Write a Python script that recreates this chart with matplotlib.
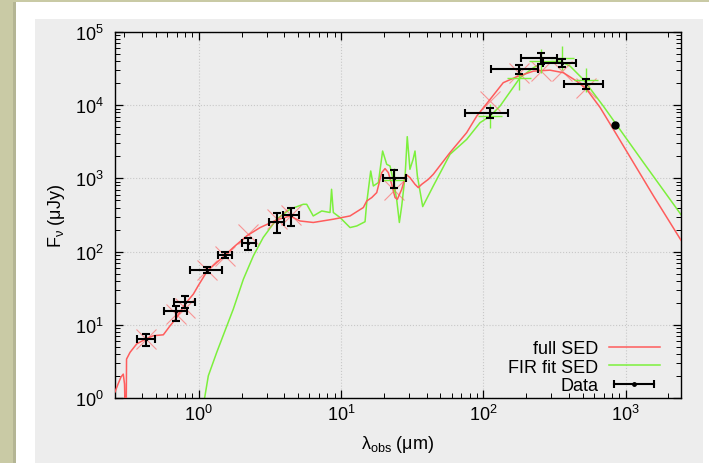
import matplotlib
matplotlib.use("Agg")
import matplotlib.pyplot as plt
from matplotlib.patches import Rectangle
from matplotlib.lines import Line2D
from matplotlib.legend_handler import HandlerLine2D, HandlerTuple
from matplotlib.ticker import LogLocator, NullFormatter

plt.rcParams['font.family'] = ['Liberation Sans', 'DejaVu Sans']
plt.rcParams['mathtext.fontset'] = 'custom'
plt.rcParams['mathtext.rm'] = 'Liberation Sans'

# photometry (um, uJy)
lam = [0.426, 0.689, 0.801, 1.15, 1.53, 2.23, 3.53, 4.45, 23.7, 111, 178, 254, 359, 527]
flux = [6.4, 15.2, 20.6, 56, 89, 130, 254, 318, 1000, 7900, 30800, 44400, 38000, 19200]
lam_lo = [0.366, 0.572, 0.67, 0.869, 1.37, 2.0, 3.13, 3.93, 19.6, 74.3, 113, 184, 264, 371]
lam_hi = [0.489, 0.832, 0.94, 1.45, 1.70, 2.52, 4.0, 5.1, 28.5, 150, 244, 327, 448, 697]
flux_lo = [5.2, 11.3, 17.2, 51, 81, 105, 182, 224, 733, 6600, 26300, 36000, 33500, 16400]
flux_hi = [7.6, 18.1, 24.4, 62, 98, 155, 341, 400, 1303, 9250, 35300, 50900, 43100, 22500]

# single point without errors
lam_smm = [843]
flux_smm = [5420]

# model photometry
model_full = [6.4, 14, 17.2, 56, 88, 172, 280, 315, 700, 11300, 27700, 29000, 29000, 17000]
lam_fir = [23.7, 111, 178, 254, 359, 527]
model_fir = [950, 7100, 23700, 39600, 44700, 22300]

# full SED curve
sed_lam = [0.258, 0.271, 0.284, 0.295, 0.301, 0.305, 0.309, 0.311, 0.329, 0.367,
           0.426, 0.480, 0.564, 0.629, 0.689, 0.801, 0.916, 0.99, 1.149, 1.338,
           1.53, 1.75, 2.175, 2.70, 3.53, 4.38, 5.15, 6.38, 8.83, 11.57,
           14.35, 15.16, 16.44, 17.82, 19.32, 20.38, 21.5, 22.7, 23.97, 24.88,
           26.7, 28.6, 30.5, 33.1, 34.9, 36.9, 41.1, 44.5, 58.3, 76.4,
           89.9, 111.5, 138, 172, 225, 294, 365, 453, 533, 661,
           865, 1566, 2450]
sed_flux = [1.21, 1.55, 1.93, 2.12, 1.55, 0.5, 0.5, 3.4, 4.2, 5.5,
            6.4, 7.1, 7.3, 9.7, 12.0, 19.2, 26.2, 34, 54.5, 71,
            89, 114, 164, 213, 271, 307, 262, 250, 277, 307,
            400, 492, 547, 640, 1200, 1361, 1200, 830, 547, 519,
            710, 1138, 1026, 830, 749, 830, 972, 1138, 2250, 4220,
            7100, 12000, 20300, 24500, 29200, 30100, 27800, 21300, 16400, 9330,
            3950, 580, 143]

# FIR fit curve
fir_lam = [1.10, 1.168, 1.338, 1.53, 1.75, 2.06, 2.42, 2.84, 3.53, 4.38,
           5.43, 5.74, 6.38, 7.32, 8.37, 8.58, 8.83, 9.84, 11.57, 12.9,
           14.75, 15.16, 16.17, 16.87, 18.3, 19.6, 20.95, 22.1, 23.6, 24.6,
           25.7, 26.7, 28.2, 29.2, 30.5, 32.1, 33.1, 34.4, 37.5, 44.5,
           58.3, 76.4, 94.8, 111.5, 131, 181, 225, 264, 346, 407,
           504, 697, 964, 1331, 2450]
fir_flux = [1.0, 2.01, 4.2, 8.3, 16.4, 42, 87.4, 156, 277, 379,
            443, 443, 307, 359, 342, 710, 342, 292, 213, 224,
            256, 468, 1262, 788, 877, 2366, 1557, 1477, 830, 519,
            250, 420, 1079, 3716, 1331, 1823, 2366, 1079, 412, 788,
            2132, 3415, 5770, 7100, 9720, 23700, 32500, 38700, 40000, 34200,
            22500, 9720, 4000, 1660, 320]

red = '#ff5c5c'
green = '#7cf03c'
panel = '#ededed'

fig = plt.figure(figsize=(7.09, 4.64), dpi=100, facecolor='#c9caa5')
# frame around the plot
fig.add_artist(Rectangle((13 / 709, 0), 4 / 709, 461 / 464, transform=fig.transFigure,
                         facecolor='#b4b594', edgecolor='none', zorder=-3))
fig.add_artist(Rectangle((16 / 709, 0), 693 / 709, 461 / 464, transform=fig.transFigure,
                         facecolor='white', edgecolor='none', zorder=-2))
fig.add_artist(Rectangle((35 / 709, 0), 668 / 709, 444 / 464, transform=fig.transFigure,
                         facecolor=panel, edgecolor='none', zorder=-1))

ax = fig.add_axes([115 / 709, 65 / 464, 566 / 709, 366 / 464])
ax.set_facecolor(panel)
ax.set_xscale('log')
ax.set_yscale('log')

ax.plot(sed_lam, sed_flux, color=red, lw=1.1, zorder=3)
ax.plot(fir_lam, fir_flux, color=green, lw=1.1, zorder=2)
ax.plot(lam, model_full, ls='none', marker='x', ms=15, mew=0.8, color=red, alpha=0.6, zorder=4)
ax.plot(lam_fir, model_fir, ls='none', marker='+', ms=17, mew=1.0, color=green, zorder=4)

xerr = [[l - a for l, a in zip(lam, lam_lo)], [b - l for l, b in zip(lam, lam_hi)]]
yerr = [[f - a for f, a in zip(flux, flux_lo)], [b - f for f, b in zip(flux, flux_hi)]]
ax.errorbar(lam, flux, xerr=xerr, yerr=yerr, fmt='.', ms=3, color='black',
            elinewidth=1.5, capsize=3, capthick=1.5, zorder=5)
ax.plot(lam_smm, flux_smm, ls='none', marker='o', ms=5, color='black', zorder=5)

ax.set_xlim(0.258, 2450)
ax.set_ylim(1, 1e5)
ax.xaxis.set_major_locator(LogLocator(base=10, numticks=10))
ax.yaxis.set_major_locator(LogLocator(base=10, numticks=10))
ax.xaxis.set_minor_locator(LogLocator(base=10, subs=range(2, 10), numticks=20))
ax.yaxis.set_minor_locator(LogLocator(base=10, subs=range(2, 10), numticks=20))
ax.xaxis.set_minor_formatter(NullFormatter())
ax.yaxis.set_minor_formatter(NullFormatter())
ax.tick_params(which='both', direction='in', top=True, right=True, labelsize=13)
ax.tick_params(which='major', length=6, width=0.9)
ax.tick_params(which='minor', length=3.5, width=0.7)
ax.tick_params(axis='y', pad=8)
ax.tick_params(axis='x', pad=4)
ax.grid(which='major', color='#c8c8c8', ls=':', lw=0.8)
for s in ax.spines.values():
    s.set_linewidth(1.0)

ax.set_xlabel(r'$\mathregular{λ_{obs}}$ (μm)', fontsize=13, labelpad=7)
ax.set_ylabel(r'$\mathregular{F_{ν}}$ (μJy)', fontsize=13, labelpad=6)

# legend
h_full = Line2D([], [], color=red, lw=1.1)
h_fir = Line2D([], [], color=green, lw=1.1)
cap = Line2D([], [], color='black', lw=1.5, marker='|', ms=6, mew=1.5)
dot = Line2D([], [], color='black', ls='none', marker='.', ms=5)
ax.legend([h_full, h_fir, (cap, dot)], ['full SED', 'FIR fit SED', 'Data'],
          handler_map={cap: HandlerLine2D(numpoints=2), dot: HandlerLine2D(numpoints=1),
                       tuple: HandlerTuple(ndivide=1)},
          loc='lower right', bbox_to_anchor=(0.975, -0.01), markerfirst=False, frameon=False,
          fontsize=13, handlelength=2.8, handletextpad=0.6, labelspacing=0.1,
          borderaxespad=0.0)

fig.savefig('out.png', dpi=100, facecolor=fig.get_facecolor())
